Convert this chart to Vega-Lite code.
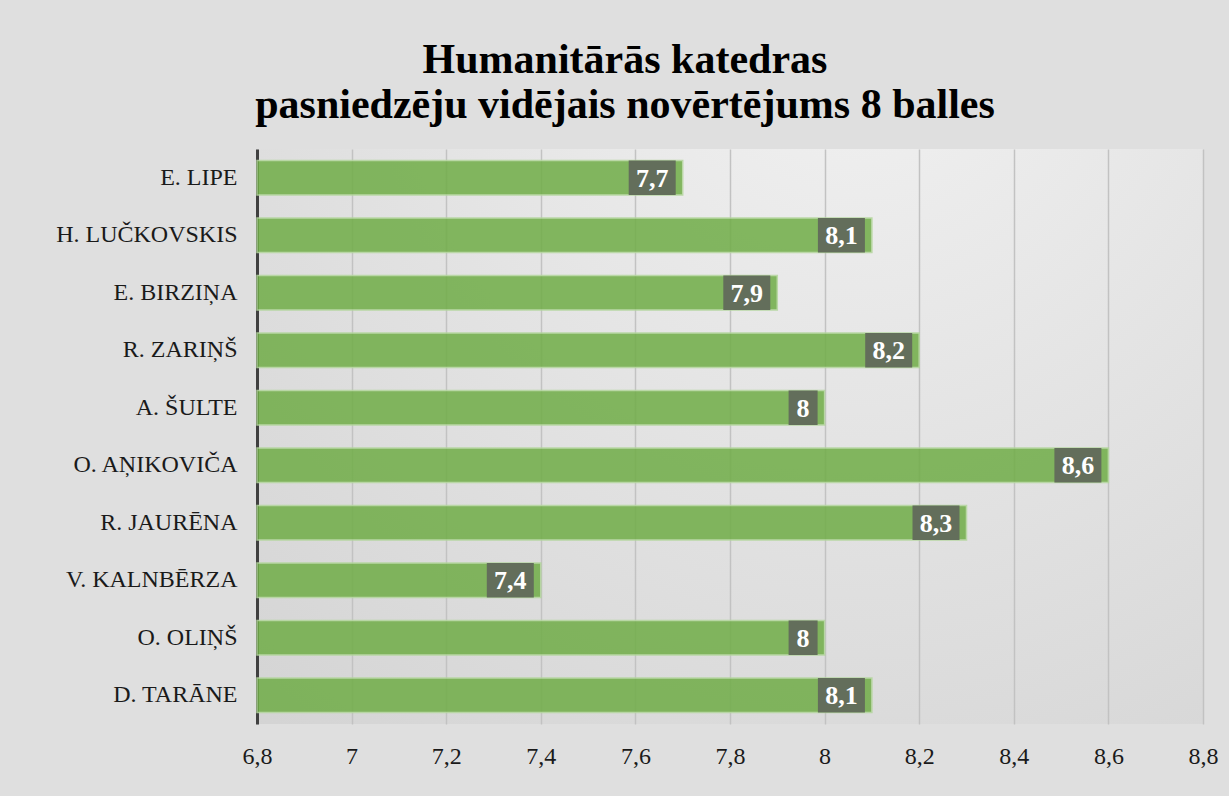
{
  "$schema": "https://vega.github.io/schema/vega-lite/v6.json",
  "width": 946,
  "height": 575,
  "autosize": {"type": "none"},
  "padding": {"left": 257, "top": 149, "right": 26, "bottom": 72},
  "background": "#dfdfdf",
  "title": {
    "text": ["Humanitārās katedras", "pasniedzēju vidējais novērtējums 8 balles"],
    "font": "Liberation Serif",
    "fontSize": 42,
    "fontWeight": "bold",
    "color": "#000000",
    "lineHeight": 45,
    "anchor": "middle",
    "frame": "group",
    "dx": -105,
    "dy": 43,
    "baseline": "alphabetic",
    "offset": 32
  },
  "data": {
    "values": [
      {"name": "E. LIPE", "v": 7.7},
      {"name": "H. LUČKOVSKIS", "v": 8.1},
      {"name": "E. BIRZIŅA", "v": 7.9},
      {"name": "R. ZARIŅŠ", "v": 8.2},
      {"name": "A. ŠULTE", "v": 8.0},
      {"name": "O. AŅIKOVIČA", "v": 8.6},
      {"name": "R. JAURĒNA", "v": 8.3},
      {"name": "V. KALNBĒRZA", "v": 7.4},
      {"name": "O. OLIŅŠ", "v": 8.0},
      {"name": "D. TARĀNE", "v": 8.1}
    ]
  },
  "encoding": {
    "y": {
      "field": "name",
      "type": "nominal",
      "sort": null,
      "scale": {"paddingInner": 0.4, "paddingOuter": 0.2},
      "axis": {
        "title": null,
        "ticks": false,
        "labelPadding": 20,
        "labelLimit": 400,
        "labelFont": "Liberation Serif",
        "labelFontSize": 24,
        "labelColor": "#1a1a1a",
        "domainColor": "#404040",
        "domainWidth": 3,
        "grid": false
      }
    }
  },
  "layer": [
    {
      "mark": {"type": "bar", "color": "#70ad47", "opacity": 0.85, "stroke": "#b3d69c", "strokeWidth": 1.5},
      "encoding": {
        "x": {
          "field": "v",
          "type": "quantitative",
          "scale": {"domain": [6.8, 8.8], "nice": false, "zero": false},
          "axis": {
            "title": null,
            "values": [6.8, 7, 7.2, 7.4, 7.6, 7.8, 8, 8.2, 8.4, 8.6, 8.8],
            "format": ".1~f",
            "grid": true,
            "gridColor": "#c2c2c2",
            "gridWidth": 1.5,
            "ticks": false,
            "domain": false,
            "labelFlush": false,
            "labelPadding": 20,
            "labelFont": "Liberation Serif",
            "labelFontSize": 24,
            "labelColor": "#1a1a1a",
            "labelBaseline": "top"
          }
        },
        "x2": {"datum": 6.8}
      }
    },
    {
      "transform": [{"filter": "datum.v % 1 != 0"}],
      "mark": {"type": "bar", "color": "#636e5b", "xOffset": -54, "x2Offset": -7},
      "encoding": {
        "x": {"field": "v", "type": "quantitative"},
        "x2": {"field": "v"}
      }
    },
    {
      "transform": [{"filter": "datum.v % 1 == 0"}],
      "mark": {"type": "bar", "color": "#636e5b", "xOffset": -36, "x2Offset": -7},
      "encoding": {
        "x": {"field": "v", "type": "quantitative"},
        "x2": {"field": "v"}
      }
    },
    {
      "transform": [{"filter": "datum.v % 1 != 0"}],
      "mark": {"type": "text", "color": "#ffffff", "font": "Liberation Serif", "fontSize": 26, "fontWeight": "bold", "xOffset": -30.5, "align": "center", "baseline": "middle", "dy": 1},
      "encoding": {
        "x": {"field": "v", "type": "quantitative"},
        "text": {"field": "v", "type": "quantitative", "format": ".1~f"}
      }
    },
    {
      "transform": [{"filter": "datum.v % 1 == 0"}],
      "mark": {"type": "text", "color": "#ffffff", "font": "Liberation Serif", "fontSize": 26, "fontWeight": "bold", "xOffset": -21.5, "align": "center", "baseline": "middle", "dy": 1},
      "encoding": {
        "x": {"field": "v", "type": "quantitative"},
        "text": {"field": "v", "type": "quantitative", "format": ".1~f"}
      }
    }
  ],
  "config": {
    "locale": {"number": {"decimal": ",", "thousands": " ", "grouping": [3], "currency": ["", " €"]}},
    "view": {
      "stroke": null,
      "fill": {
        "gradient": "radial",
        "x1": 0.63, "y1": 0.05, "r1": 0,
        "x2": 0.63, "y2": 0.05, "r2": 1.2,
        "stops": [
          {"offset": 0, "color": "#f2f2f2"},
          {"offset": 1, "color": "#cdcdcd"}
        ]
      }
    }
  }
}
